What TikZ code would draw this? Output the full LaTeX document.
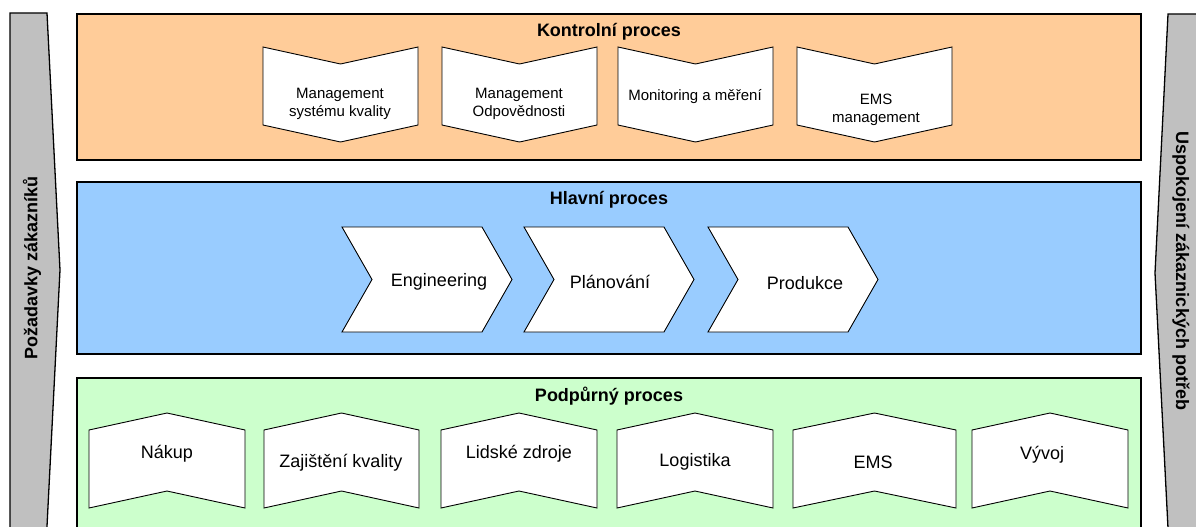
\documentclass[tikz,border=0pt]{standalone}
\usepackage{fontspec}
\setmainfont{Liberation Sans}
\definecolor{ctrlfill}{HTML}{FFCC99}
\definecolor{mainfill}{HTML}{99CCFF}
\definecolor{suppfill}{HTML}{CCFFCC}
\definecolor{sidegray}{HTML}{C0C0C0}
\begin{document}
\begin{tikzpicture}[x=1pt,y=-1pt,
  band/.style={draw=black,line width=1.7pt},
  sidebar/.style={draw=black,line width=1.3pt,fill=sidegray},
  item/.style={draw=black,line width=0.9pt,fill=white},
  title/.style={font=\fontsize{18}{21}\selectfont\bfseries,inner sep=0pt},
  lbl/.style={font=\fontsize{18}{21}\selectfont,align=center,inner sep=0pt},
  small/.style={font=\fontsize{15}{17.5}\selectfont,align=center,inner sep=0pt}]
\useasboundingbox (0,0) rectangle (1196,527);
\clip (0,0) rectangle (1196,527);

% customer requirements / satisfaction side arrows
\draw[sidebar] (10,13) -- (47,13) -- (60,270) -- (46.3,540) -- (10,540) -- cycle;
\fill[sidegray] (1168,14) -- (1205,14) -- (1205,540) -- (1168.6,540) -- (1155,273) -- cycle;
\draw[black,line width=1.3pt] (1205,14) -- (1168,14) -- (1155,273) -- (1168.6,540);
\node[title,rotate=90] (req) at (32,268) {Požadavky zákazníků};
\node[title,rotate=-90] (sat) at (1181,271) {Uspokojení zákaznických potřeb};

% the three process bands
\draw[band,fill=ctrlfill] (77,14) rectangle (1141,160);
\draw[band,fill=mainfill] (77,182) rectangle (1141,354);
\draw[band,fill=suppfill] (77,378) rectangle (1141,540);
\node[title] (ctrl) at (609,32) {Kontrolní proces};
\node[title] (main) at (609,200) {Hlavní proces};
\node[title] (supp) at (609,396) {Podpůrný proces};

% control processes
\foreach \l in {263,442,618,797}{
  \draw[item] (\l,47) -- (\l+77.5,64) -- (\l+155,47) -- (\l+155,125)
    -- (\l+77.5,142) -- (\l,125) -- cycle;
}
\node[small] (c1) at (340,104) {Management\\systému kvality};
\node[small] (c2) at (519,104) {Management\\Odpovědnosti};
\node[small] (c3) at (695,97) {Monitoring a měření};
\node[small] (c4) at (876,110) {EMS\\management};

% main process chevrons
\foreach \l in {342,524,708}{
  \draw[item] (\l,227) -- (\l+140,227) -- (\l+170,279.5) -- (\l+140,332)
    -- (\l,332) -- (\l+30,279.5) -- cycle;
}
\node[lbl] (m1) at (439,282) {Engineering};
\node[lbl] (m2) at (610,282) {Plánování};
\node[lbl] (m3) at (805,283) {Produkce};

% support processes
\foreach \l/\w in {89/156,264/155,441/156,617/156,793/163,972/156}{
  \draw[item] (\l,430) -- (\l+\w/2,413) -- (\l+\w,430) -- (\l+\w,508)
    -- (\l+\w/2,491) -- (\l,508) -- cycle;
}
\node[lbl] (s1) at (167,454) {Nákup};
\node[lbl] (s2) at (341,463) {Zajištění kvality};
\node[lbl] (s3) at (519,454) {Lidské zdroje};
\node[lbl] (s4) at (695,462) {Logistika};
\node[lbl] (s5) at (873,462) {EMS};
\node[lbl] (s6) at (1042,455) {Vývoj};
\end{tikzpicture}
\end{document}
